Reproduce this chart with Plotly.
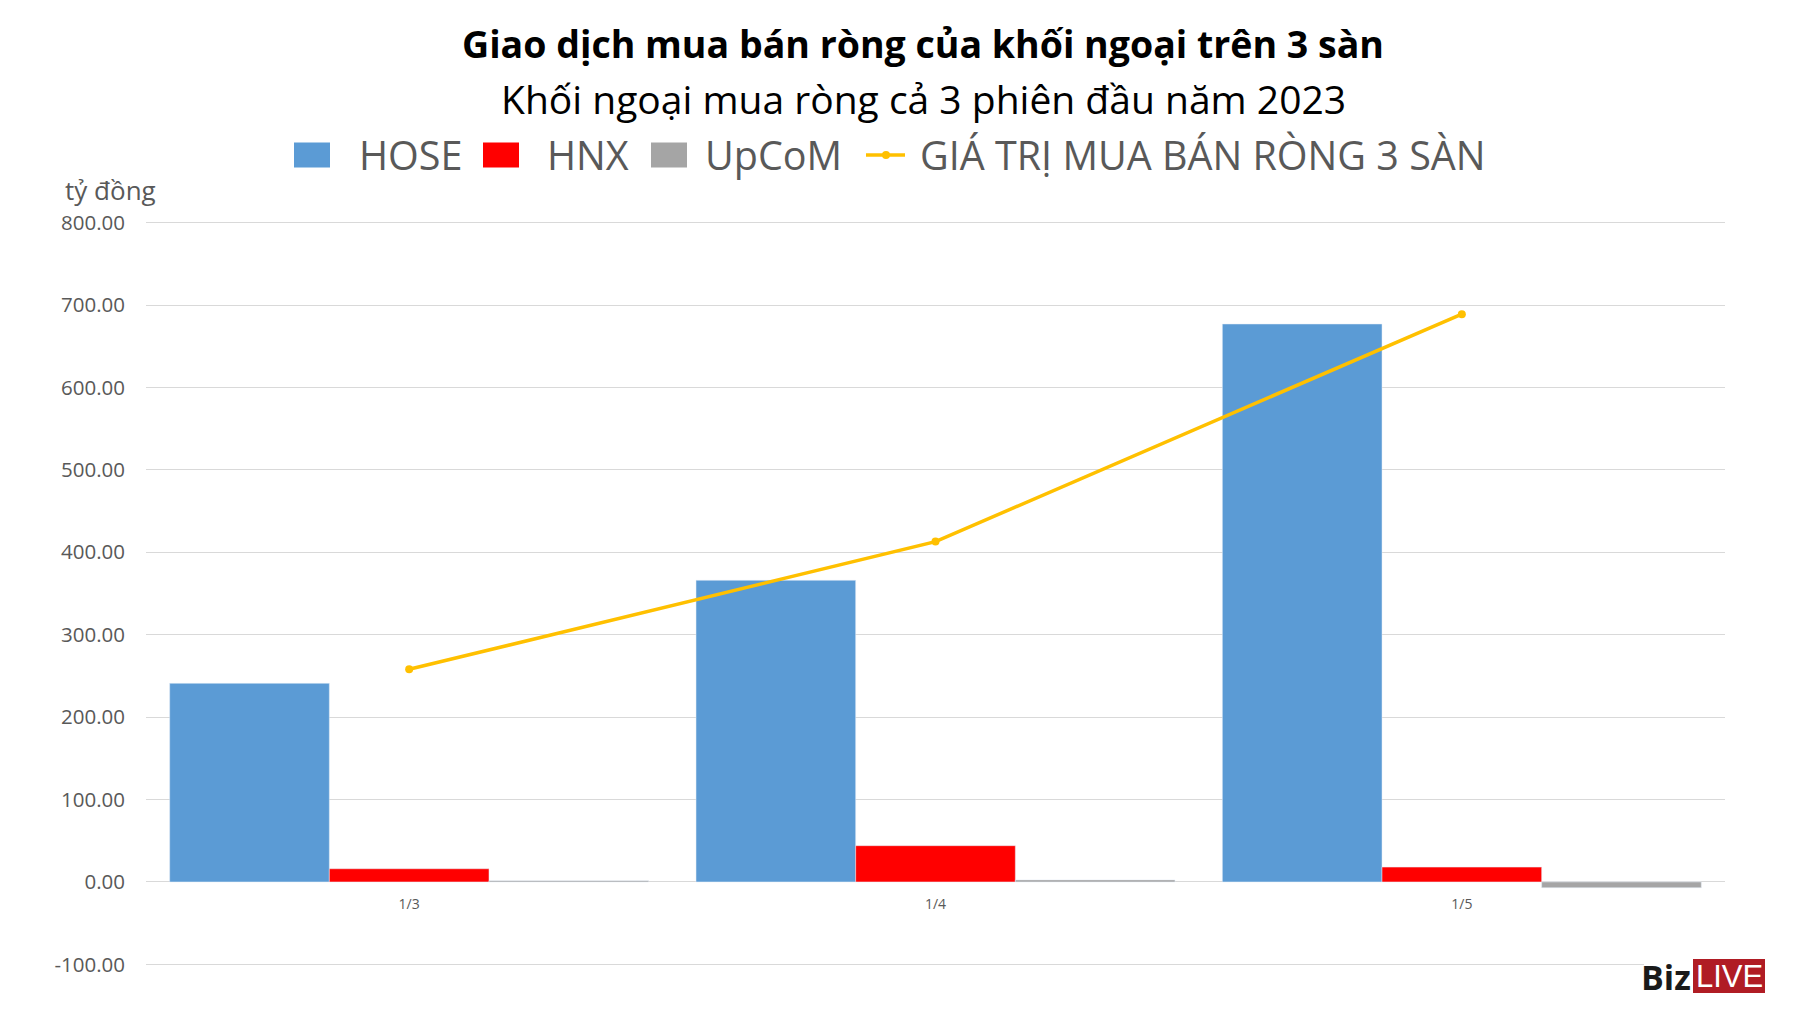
import plotly.graph_objects as go

categories = ["1/3", "1/4", "1/5"]
hose = [241, 366, 677]
hnx = [16, 44, 18]
upcom = [1.5, 2.5, -7]
total = [258, 413, 689]
ytick_vals = [-100, 0, 100, 200, 300, 400, 500, 600, 700, 800]
ytick_text = ["-100.00", "0.00", "100.00", "200.00", "300.00", "400.00",
              "500.00", "600.00", "700.00", "800.00"]
series_names = ["HOSE", "HNX", "UpCoM", "GIÁ TRỊ MUA BÁN RÒNG 3 SÀN"]

FONT = "Open Sans"
GRAY = "#595959"
C_HOSE, C_HNX, C_UPCOM, C_TOTAL = "#5B9BD5", "#FF0000", "#A5A5A5", "#FFC000"

fig = go.Figure()
fig.add_trace(go.Bar(x=categories, y=hose, name=series_names[0], marker_color=C_HOSE))
fig.add_trace(go.Bar(x=categories, y=hnx, name=series_names[1], marker_color=C_HNX))
fig.add_trace(go.Bar(x=categories, y=upcom, name=series_names[2], marker_color=C_UPCOM))
fig.add_trace(go.Scatter(x=categories, y=total, name=series_names[3],
                         mode="lines+markers",
                         line=dict(color=C_TOTAL, width=3.5),
                         marker=dict(color=C_TOTAL, size=8)))

ymin, ymax = -100, 800
PAD = 2  # keep the edge grid lines visible

# Page body has an 8px margin; the figure is shrunk by 8px to compensate.
W, H = 1801, 1010
L, R, T, B = 138, 84, 213, 52
OFF = 8
PLOT_X0 = L + OFF
PLOT_W = W - L - R
PLOT_Y0 = T + OFF
PLOT_H = H - T - B


def px(X):
    return (X - PLOT_X0) / PLOT_W


def py(Y):
    return (PLOT_Y0 + PLOT_H - Y) / PLOT_H


# manual legend (large keys like the original)
shapes = []
annotations = []
key_specs = [  # (key x0, key x1, text x, colour)
    (294, 330, 357, C_HOSE),
    (483, 519, 545, C_HNX),
    (651, 687, 703, C_UPCOM),
]
for (x0, x1, tx, col), name in zip(key_specs, series_names[:3]):
    shapes.append(dict(type="rect", xref="paper", yref="paper",
                       x0=px(x0), x1=px(x1), y0=py(167.5), y1=py(142.5),
                       fillcolor=col, line=dict(width=0), layer="above"))
    annotations.append(dict(text=name, xref="paper", yref="paper",
                            x=px(tx), y=py(155), xanchor="left", yanchor="middle",
                            showarrow=False, font=dict(size=39.5, color=GRAY, family=FONT)))
shapes.append(dict(type="line", xref="paper", yref="paper",
                   x0=px(866), x1=px(905), y0=py(155), y1=py(155),
                   line=dict(color=C_TOTAL, width=3.5), layer="above"))
shapes.append(dict(type="circle", xref="paper", yref="paper",
                   x0=px(882), x1=px(890), y0=py(159), y1=py(151),
                   fillcolor=C_TOTAL, line=dict(width=0), layer="above"))
annotations.append(dict(text=series_names[3], xref="paper", yref="paper",
                        x=px(918), y=py(155), xanchor="left", yanchor="middle",
                        showarrow=False, font=dict(size=39.5, color=GRAY, family=FONT)))

# titles
annotations += [
    dict(text="<b>Giao dịch mua bán ròng của khối ngoại trên 3 sàn</b>",
         xref="paper", yref="paper", x=px(923), y=py(43),
         xanchor="center", yanchor="middle", showarrow=False,
         font=dict(size=37.5, color="black", family=FONT)),
    dict(text="Khối ngoại mua ròng cả 3 phiên đầu năm 2023",
         xref="paper", yref="paper", x=px(923), y=py(98),
         xanchor="center", yanchor="middle", showarrow=False,
         font=dict(size=39, color="black", family=FONT)),
    dict(text="tỷ đồng",
         xref="paper", yref="paper", x=px(63), y=py(190),
         xanchor="left", yanchor="middle", showarrow=False,
         font=dict(size=26, color=GRAY, family=FONT)),
]

# BizLIVE logo
shapes.append(dict(type="rect", xref="paper", yref="paper",
                   x0=px(1644), x1=px(1693), y0=py(995), y1=py(957),
                   fillcolor="white", line=dict(width=0), layer="above"))
shapes.append(dict(type="rect", xref="paper", yref="paper",
                   x0=px(1693), x1=px(1765), y0=py(993), y1=py(959),
                   fillcolor="#B01C24", line=dict(width=0), layer="above"))
annotations += [
    dict(text="<b>Biz</b>", xref="paper", yref="paper", x=px(1693), y=py(977),
         xanchor="right", yanchor="middle", showarrow=False,
         font=dict(size=34, color="#1A1A1A", family=FONT)),
    dict(text="LIVE", xref="paper", yref="paper", x=px(1729), y=py(976),
         xanchor="center", yanchor="middle", showarrow=False,
         font=dict(size=31, color="white", family="Liberation Sans")),
]

fig.update_layout(
    width=W, height=H,
    paper_bgcolor="white", plot_bgcolor="white",
    margin=dict(l=L, r=R, t=T, b=B),
    barmode="group", bargap=0.09, bargroupgap=0,
    font=dict(family=FONT, color=GRAY),
    showlegend=False,
    xaxis=dict(anchor="free", position=(0 - (ymin - PAD)) / (ymax - ymin + 2 * PAD),
               showgrid=False, showline=False, zeroline=False,
               tickfont=dict(size=14, color=GRAY), ticks="", ticklabelstandoff=12,
               range=[-0.5, 2.5]),
    yaxis=dict(range=[ymin - PAD, ymax + PAD], tickvals=ytick_vals, ticktext=ytick_text,
               showgrid=True, gridcolor="#D9D9D9", gridwidth=1,
               zeroline=True, zerolinecolor="#D9D9D9", zerolinewidth=1,
               showline=False, tickfont=dict(size=20.5, color=GRAY),
               ticklabelstandoff=20),
    shapes=shapes,
    annotations=annotations,
)

fig.write_html("out.html")
